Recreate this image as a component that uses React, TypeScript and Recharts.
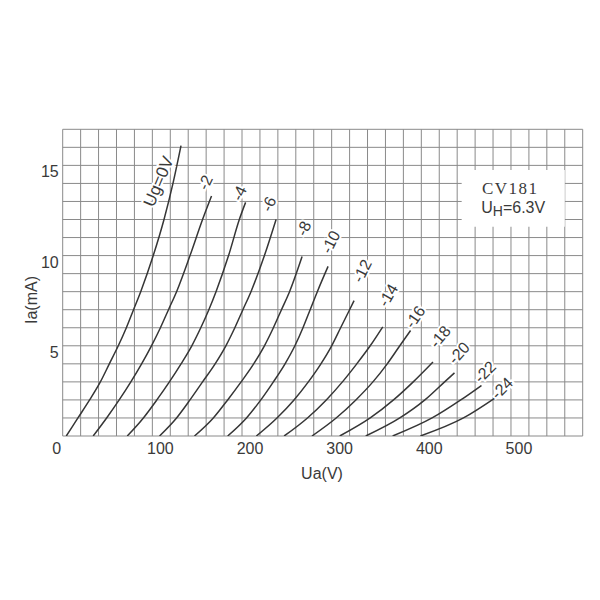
import React from 'react';
import { LineChart, Line, XAxis, YAxis, CartesianGrid, ReferenceArea, ReferenceDot, Label } from 'recharts';

// Grid / tick values
const xTicks = [0, 20, 40, 60, 80, 100, 120, 140, 160, 180, 200, 220, 240, 260, 280, 300, 320, 340, 360, 380, 400, 420, 440, 460, 480, 500, 520, 540, 560, 580];
const yTicks = [0, 1, 2, 3, 4, 5, 6, 7, 8, 9, 10, 11, 12, 13, 14, 15, 16, 17];
const xLabelValues = [0, 100, 200, 300, 400, 500];
const yLabelValues = [5, 10, 15];

// Anode characteristic curves: [Ua (V), Ia (mA)]
const ug0: [number, number][] = [[4, 0], [17, 1], [30, 2], [42, 3], [52, 4], [62, 5], [71, 6], [79, 7], [87, 8], [101, 10], [113, 12], [123, 14], [132, 16.1]];
const ug2: [number, number][] = [[34, 0], [49, 1], [63, 2], [76, 3], [88, 4], [99, 5], [109, 6], [118, 7], [127, 8], [142, 10], [156, 12], [166, 13.3]];
const ug4: [number, number][] = [[72, 0], [90, 1], [105, 2], [119, 3], [132, 4], [144, 5], [154, 6], [163, 7], [171, 8], [185, 10], [197, 12], [204, 12.95]];
const ug6: [number, number][] = [[108, 0], [127, 1], [142, 2], [156, 3], [170, 4], [182, 5], [192, 6], [201, 7], [210, 8], [225, 10], [238, 12]];
const ug8: [number, number][] = [[147, 0], [168, 1], [184, 2], [199, 3], [213, 4], [225, 5], [235, 6], [244, 7], [253, 8], [267, 9.95]];
const ug10: [number, number][] = [[184, 0], [205, 1], [221, 2], [235, 3], [248, 4], [259, 5], [268, 6], [276, 7], [284, 8], [296, 9.4]];
const ug12: [number, number][] = [[216, 0], [239, 1], [258, 2], [274, 3], [288, 4], [300, 5], [310, 6], [320, 7], [325, 7.5]];
const ug14: [number, number][] = [[247, 0], [273, 1], [294, 2], [312, 3], [328, 4], [343, 5], [357, 6.05]];
const ug16: [number, number][] = [[278, 0], [305, 1], [327, 2], [346, 3], [362, 4], [376, 5], [388, 5.85]];
const ug18: [number, number][] = [[309, 0], [343, 1], [369, 2], [391, 3], [413, 4.1]];
const ug20: [number, number][] = [[338, 0], [376, 1], [404, 2], [426, 3], [437, 3.5]];
const ug22: [number, number][] = [[368, 0], [412, 1], [444, 2], [467, 2.8]];
const ug24: [number, number][] = [[399, 0], [447, 1], [482, 2.1]];

const curves = [ug0, ug2, ug4, ug6, ug8, ug10, ug12, ug14, ug16, ug18, ug20, ug22, ug24];

// Curve labels and their anchor points (in Ua / Ia units)
const curveLabels = ['Ug=0V', '-2', '-4', '-6', '-8', '-10', '-12', '-14', '-16', '-18', '-20', '-22', '-24'];
const labelV = [107, 159, 197, 230, 269, 299, 334, 363, 393, 421, 442, 471, 490];
const labelI = [14.1, 14.05, 13.45, 12.85, 11.5, 10.75, 9.15, 7.8, 6.6, 5.5, 4.6, 3.55, 2.65];
const labelAngle = [-67, -65, -65, -65, -65, -63, -63, -60, -55, -50, -48, -45, -45];

const FONT = '"Liberation Sans", Arial, sans-serif';
const TEXT = '#3a3a3a';
const GRID = '#8a8a8a';
const CURVE = '#363636';

const XTick = (props: any) => {
  const { x, y, payload } = props;
  const v = payload.value;
  if (!xLabelValues.includes(v)) return <g />;
  const dx = v === 0 ? -6 : 8;
  return (
    <text x={x + dx} y={y + 14} textAnchor="middle" fontSize={16} fontFamily={FONT} fill={TEXT}>
      {v}
    </text>
  );
};

const YTick = (props: any) => {
  const { x, y, payload } = props;
  const v = payload.value;
  if (!yLabelValues.includes(v)) return <g />;
  return (
    <text x={x} y={y + 12} textAnchor="end" fontSize={16} fontFamily={FONT} fill={TEXT}>
      {v}
    </text>
  );
};

export default function App() {
  return (
    <div style={{ position: 'absolute', left: 0, top: 0, width: 600, height: 600, background: '#fff' }}>
      <LineChart width={600} height={600} margin={{ top: 129.3, right: 17.3, bottom: 134, left: 22.7 }}>
        <CartesianGrid stroke={GRID} strokeWidth={1} />
        <XAxis
          type="number"
          dataKey="v"
          domain={[0, 580]}
          ticks={xTicks}
          interval={0}
          allowDataOverflow
          tick={<XTick />}
          tickLine={false}
          axisLine={false}
          tickSize={0}
          tickMargin={4}
          height={30}
        >
          <Label
            content={() => (
              <text x={322} y={479} textAnchor="middle" fontSize={16} fontFamily={FONT} fill={TEXT}>
                Ua(V)
              </text>
            )}
          />
        </XAxis>
        <YAxis
          type="number"
          domain={[0, 17]}
          ticks={yTicks}
          interval={0}
          allowDataOverflow
          tick={<YTick />}
          tickLine={false}
          axisLine={false}
          tickSize={0}
          tickMargin={4}
          width={40}
        >
          <Label
            content={() => (
              <text
                x={31}
                y={300}
                transform="rotate(-90 31 300)"
                textAnchor="middle"
                dominantBaseline="central"
                fontSize={16}
                fontFamily={FONT}
                fill={TEXT}
              >
                Ia(mA)
              </text>
            )}
          />
        </YAxis>
        <ReferenceArea
          x1={445}
          x2={560}
          y1={11.6}
          y2={14.75}
          fill="#ffffff"
          fillOpacity={1}
          stroke="none"
          ifOverflow="visible"
        >
          <Label
            content={(p: any) => {
              const vb = p.viewBox || { x: 462, y: 170, width: 103, height: 57 };
              const cx = vb.x + vb.width / 2;
              return (
                <g>
                  <text x={cx - 3} y={vb.y + 24} textAnchor="middle" fontSize={17} letterSpacing={1.5} fontFamily='"Liberation Serif", "Times New Roman", serif' fill={TEXT}>
                    CV181
                  </text>
                  <text x={cx} y={vb.y + 43} textAnchor="middle" fontSize={16} fontFamily={FONT} fill={TEXT}>
                    U<tspan fontSize={14} dy={3}>H</tspan>
                    <tspan dy={-3}>=6.3V</tspan>
                  </text>
                </g>
              );
            }}
          />
        </ReferenceArea>
        {curves.map((c, idx) => (
          <Line
            key={'c' + idx}
            data={c.map(([v, i]) => ({ v, i }))}
            dataKey="i"
            type="monotone"
            stroke={CURVE}
            strokeWidth={1.5}
            dot={false}
            activeDot={false}
            isAnimationActive={false}
          />
        ))}
        {curveLabels.map((lab, idx) => (
          <ReferenceDot
            key={'l' + idx}
            x={labelV[idx]}
            y={labelI[idx]}
            r={0}
            ifOverflow="visible"
            shape={(p: any) => (
              <text
                x={p.cx}
                y={p.cy}
                transform={`rotate(${labelAngle[idx]} ${p.cx} ${p.cy})`}
                textAnchor="middle"
                dominantBaseline="central"
                fontSize={idx === 0 ? 17 : 16}
                fontFamily={FONT}
                fill={TEXT}
                stroke="#ffffff"
                strokeWidth={4}
                paintOrder="stroke"
              >
                {lab}
              </text>
            )}
          />
        ))}
      </LineChart>
    </div>
  );
}
